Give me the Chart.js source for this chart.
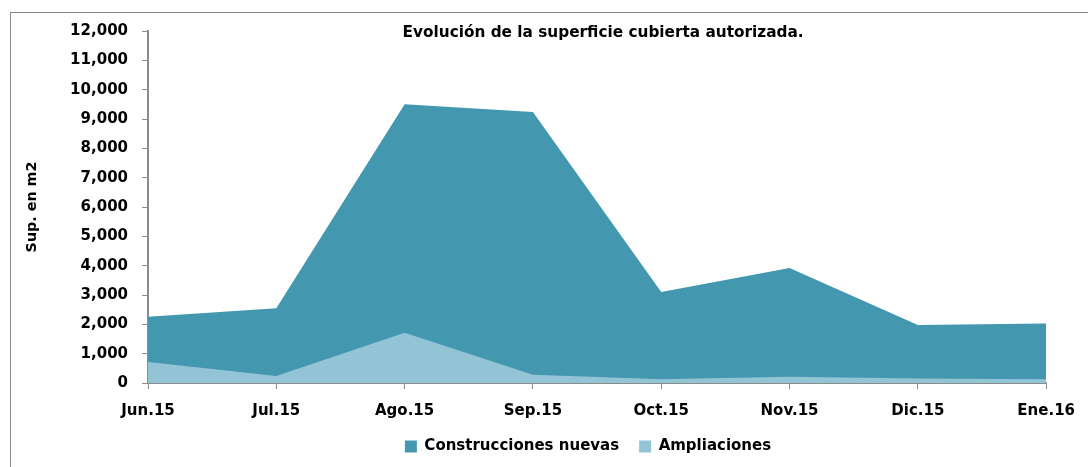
<!DOCTYPE html>
<html>
<head>
<meta charset="utf-8">
<script src="https://cdn.jsdelivr.net/npm/chart.js@4/dist/chart.umd.min.js"></script>
<style>
  body { margin: 0; background: #fff; overflow: hidden; }
  #frame { position: absolute; left: 10px; top: 12px; width: 1100px; height: 470px; border: 1px solid #8c8c8c; }
  #wrap { position: absolute; left: 0; top: 0; width: 1088px; height: 467px; }
</style>
</head>
<body>
<div id="frame"></div>
<div id="wrap"><canvas id="myChart"></canvas></div>
<script>
const months = ['Jun.15', 'Jul.15', 'Ago.15', 'Sep.15', 'Oct.15', 'Nov.15', 'Dic.15', 'Ene.16'];
const nuevas = [2260, 2550, 9500, 9240, 3100, 3920, 1980, 2030]; // Construcciones nuevas
const ampliaciones = [720, 240, 1710, 280, 130, 210, 150, 130];
const chartTitle = 'Evolución de la superficie cubierta autorizada.';

const FONT = 'DejaVu Sans';

// title sits inside the plot area, like the original
const titleInside = {
    id: 'titleInside',
    afterLayout(chart) {
        // legend is a bit right of centre in the original
        chart.legend.left += 58;
        chart.legend.right += 58;
    },
    afterDraw(chart) {
        const ctx = chart.ctx;
        const area = chart.chartArea;
        ctx.save();
        ctx.font = 'bold 15.3px "' + FONT + '"';
        ctx.fillStyle = '#000';
        ctx.textAlign = 'center';
        ctx.textBaseline = 'middle';
        ctx.fillText(chartTitle, (area.left + area.right) / 2 + 6, area.top + 2);
        ctx.restore();
    }
};

const ctx = document.getElementById('myChart');
new Chart(ctx, {
    type: 'line',
    data: {
        labels: months,
        datasets: [
            {
                label: 'Construcciones nuevas',
                data: nuevas,
                fill: 'origin',
                backgroundColor: '#4398b0',
                borderColor: '#4398b0',
                borderWidth: 0,
                pointRadius: 0,
                tension: 0,
                order: 2,
            },
            {
                label: 'Ampliaciones',
                data: ampliaciones,
                fill: 'origin',
                backgroundColor: '#93c4d6',
                borderColor: '#93c4d6',
                borderWidth: 0,
                pointRadius: 0,
                tension: 0,
                order: 1,
            },
        ]
    },
    options: {
        responsive: true,
        maintainAspectRatio: false,
        animation: false,
        layout: {
            padding: { left: 10, right: 38, top: 31, bottom: 3 }
        },
        scales: {
            x: {
                offset: false,
                grid: {
                    display: true,
                    drawOnChartArea: false,
                    drawTicks: true,
                    tickLength: 6,
                    color: '#8c8c8c',
                },
                border: { color: '#8c8c8c', width: 2 },
                ticks: {
                    color: '#000',
                    padding: 13,
                    maxRotation: 0,
                    font: { family: FONT, size: 15, weight: 'bold' }
                },
                afterFit: function(scale) { scale.height = 36; }
            },
            y: {
                min: 0,
                max: 12000,
                grid: {
                    display: true,
                    drawOnChartArea: false,
                    drawTicks: true,
                    tickLength: 6,
                    color: '#8c8c8c',
                },
                border: { color: '#8c8c8c', width: 2 },
                ticks: {
                    stepSize: 1000,
                    color: '#000',
                    padding: 14,
                    font: { family: FONT, size: 15, weight: 'bold' },
                    callback: function(val) { return val.toLocaleString('en-US'); }
                },
                title: {
                    display: true,
                    text: 'Sup. en m2',
                    color: '#000',
                    padding: { top: 14, bottom: 0 },
                    font: { family: FONT, size: 14.3, weight: 'bold' }
                },
                afterFit: function(scale) { scale.width = 138; }
            }
        },
        plugins: {
            title: { display: false },
            tooltip: { enabled: false },
            legend: {
                position: 'bottom',
                labels: {
                    color: '#000',
                    boxWidth: 12,
                    boxHeight: 12,
                    padding: 20,
                    font: { family: FONT, size: 15, weight: 'bold' },
                    sort: (a, b) => a.datasetIndex - b.datasetIndex
                }
            }
        }
    },
    plugins: [titleInside]
});
</script>
</body>
</html>
